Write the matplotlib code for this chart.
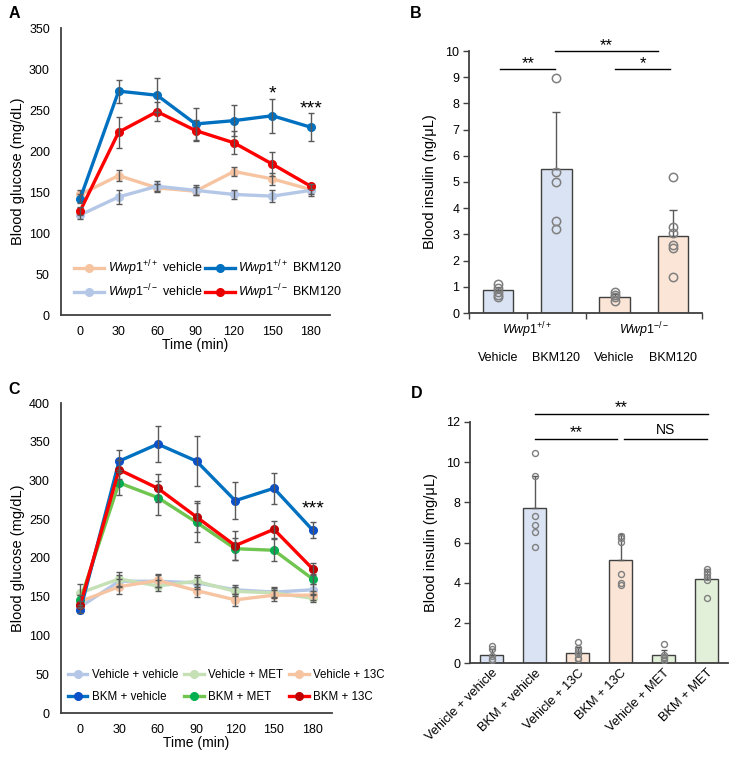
import matplotlib
matplotlib.use("Agg")
import matplotlib.pyplot as plt
import matplotlib.transforms as mtransforms

plt.rcParams["font.family"] = ["Liberation Sans", "DejaVu Sans"]
plt.rcParams["mathtext.fontset"] = "custom"
plt.rcParams["mathtext.rm"] = "Liberation Sans"
plt.rcParams["mathtext.it"] = "Liberation Sans:italic"
plt.rcParams["mathtext.bf"] = "Liberation Sans:bold"

# ---- panel A: glucose tolerance, Wwp1 genotypes
time_min = [0, 30, 60, 90, 120, 150, 180]
a_wt_veh = [147, 170, 155, 151, 175, 166, 153]
a_wt_veh_err = [5, 7, 5, 5, 6, 7, 5]
a_ko_veh = [122, 144, 157, 152, 147, 145, 152]
a_ko_veh_err = [5, 9, 6, 6, 5, 7, 7]
a_wt_bkm = [142, 273, 268, 233, 237, 243, 229]
a_wt_bkm_err = [6, 14, 21, 20, 19, 21, 17]
a_ko_bkm = [127, 223, 248, 225, 210, 184, 157]
a_ko_bkm_err = [5, 19, 12, 13, 14, 15, 3]
a_labels = [r"$\mathit{Wwp1}^{+/+}$ vehicle", r"$\mathit{Wwp1}^{-/-}$ vehicle",
            r"$\mathit{Wwp1}^{+/+}$ BKM120", r"$\mathit{Wwp1}^{-/-}$ BKM120"]
a_sig = {150: "*", 180: "***"}

# ---- panel B: insulin, Wwp1 genotypes
b_names = ["Vehicle", "BKM120", "Vehicle", "BKM120"]
b_geno = [r"$\mathit{Wwp1}^{+/+}$", r"$\mathit{Wwp1}^{-/-}$"]
b_means = [0.86, 5.51, 0.61, 2.95]
b_err = [0.12, 2.16, 0.1, 0.99]
b_points = [[1.1, 0.95, 0.8, 0.7, 0.6],
            [8.98, 5.4, 5.0, 3.52, 3.21],
            [0.82, 0.7, 0.6, 0.45],
            [5.2, 3.3, 3.05, 2.6, 2.48, 1.37]]

# ---- panel C: glucose tolerance, drug combos
c_vv = [137, 170, 170, 168, 159, 156, 159]
c_vv_err = [7, 8, 8, 8, 6, 6, 7]
c_vm = [155, 173, 164, 170, 157, 155, 148]
c_vm_err = [11, 9, 7, 8, 6, 6, 5]
c_v13 = [144, 163, 171, 158, 146, 152, 152]
c_v13_err = [8, 10, 8, 8, 8, 7, 6]
c_bv = [133, 325, 347, 325, 274, 290, 236]
c_bv_err = [4, 14, 23, 32, 24, 20, 10]
c_bm = [146, 297, 278, 246, 212, 210, 173]
c_bm_err = [6, 16, 22, 25, 14, 14, 6]
c_b13 = [140, 314, 290, 253, 216, 237, 186]
c_b13_err = [5, 12, 18, 20, 19, 11, 8]

# ---- panel D: insulin, drug combos
d_labels = ["Vehicle + vehicle", "BKM + vehicle", "Vehicle + 13C",
            "BKM + 13C", "Vehicle + MET", "BKM + MET"]
d_means = [0.38, 7.72, 0.51, 5.15, 0.38, 4.17]
d_err = [0.33, 1.57, 0.29, 1.25, 0.25, 0.49]
d_points = [[0.83, 0.7, 0.37, 0.2, 0.13],
            [10.46, 9.29, 7.32, 6.87, 6.54, 5.76],
            [1.05, 0.76, 0.6, 0.43, 0.27, 0.18],
            [6.34, 6.24, 6.02, 4.41, 3.98, 3.87],
            [0.96, 0.41, 0.3, 0.23, 0.13],
            [4.68, 4.53, 4.41, 4.28, 4.15, 3.24]]

ORANGE_L = "#F7C4A2"
BLUE_L = "#B4C7E7"
GREEN_L = "#C5E0B4"
BLUE = "#0070C0"
RED = "#FF0000"
GREEN = "#70C450"
BAR_BLUE = "#DAE3F3"
BAR_ORANGE = "#FBE5D6"
BAR_GREEN = "#E2F0D9"
EDGE = "#404040"
ERR = "#595959"
SPINE = "#404040"

W, H = 734, 759
fig = plt.figure(figsize=(W / 100, H / 100), dpi=100)


def px_axes(l, t, r, b):
    return fig.add_axes([l / W, 1 - b / H, (r - l) / W, (b - t) / H])


def style(ax, ticklen=0, pad=3):
    for s in ["top", "right"]:
        ax.spines[s].set_visible(False)
    for s in ["left", "bottom"]:
        ax.spines[s].set_color(SPINE)
        ax.spines[s].set_linewidth(1.3)
    ax.tick_params(length=ticklen, width=1, color=SPINE, labelsize=9, pad=pad)


def line_series(ax, y, err, color, mcolor=None, z=3):
    mcolor = mcolor or color
    ln, = ax.plot(time_min, y, "-o", color=color, lw=2.4, ms=5.5,
                  mfc=mcolor, mec=mcolor, zorder=z)
    ax.errorbar(time_min, y, yerr=err, fmt="none", ecolor=ERR, elinewidth=1,
                capsize=2.5, capthick=1, zorder=z + 0.5)
    return ln


def bracket(ax, x0, x1, y, txt, dy, size=12):
    ax.plot([x0, x1], [y, y], color="black", lw=1, clip_on=False)
    ax.text((x0 + x1) / 2, y + dy, txt, ha="center", va="center",
            fontsize=size, clip_on=False)


# ---------------- A
axA = px_axes(61, 28, 330, 315)
style(axA, pad=8)
h1 = line_series(axA, a_wt_veh, a_wt_veh_err, ORANGE_L, z=2)
h2 = line_series(axA, a_ko_veh, a_ko_veh_err, BLUE_L, z=2)
h3 = line_series(axA, a_wt_bkm, a_wt_bkm_err, BLUE, z=3)
h4 = line_series(axA, a_ko_bkm, a_ko_bkm_err, RED, mcolor="#E80000", z=3)
for i, t in enumerate(time_min):
    if t in a_sig:
        top = max(a_wt_bkm[i] + a_wt_bkm_err[i], a_ko_bkm[i] + a_ko_bkm_err[i])
        axA.text(t, top + 5, a_sig[t], ha="center", va="center", fontsize=14)
axA.set_xlim(-15, 195)
axA.set_ylim(0, 350)
axA.set_xticks(time_min)
axA.set_yticks(range(0, 351, 50))
axA.set_ylabel("Blood glucose (mg/dL)", fontsize=10.5, labelpad=3)
axA.set_xlabel("Time (min)", fontsize=10, labelpad=0)
axA.legend([h1, h2, h3, h4], a_labels, ncol=2, frameon=False, fontsize=9,
           loc="center left", bbox_to_anchor=(0.05, 0.122), handlelength=2.4,
           handletextpad=0.25, columnspacing=0.2, labelspacing=0.35,
           borderaxespad=0, borderpad=0)

# ---------------- B
axB = px_axes(469, 51, 702, 313)
style(axB, ticklen=4)
b_cols = [BAR_BLUE, BAR_BLUE, BAR_ORANGE, BAR_ORANGE]
xb = range(len(b_means))
axB.bar(xb, b_means, width=0.52, color=b_cols, edgecolor=EDGE, lw=1, zorder=2)
axB.errorbar(xb, b_means, yerr=[[0] * 4, b_err], fmt="none", ecolor=ERR,
             elinewidth=1, capsize=3, capthick=1, zorder=3)
for i, pts in enumerate(b_points):
    axB.plot([i] * len(pts), pts, "o", ms=6, mfc="none", mec="#7F7F7F",
             mew=1.1, zorder=4)
axB.set_xlim(-0.5, 3.5)
axB.set_ylim(0, 10)
axB.set_yticks(range(0, 11))
axB.set_xticks([-0.5, 0.5, 1.5, 3.5])
axB.set_xticklabels([])
axB.set_ylabel("Blood insulin (ng/μL)", fontsize=10.5, labelpad=6)
trB = mtransforms.blended_transform_factory(axB.transData, axB.transAxes)
for i, g in enumerate(b_geno):
    axB.text(0.5 + 2 * i, -0.066, g, transform=trB, ha="center", va="center",
             fontsize=9)
for i, n in enumerate(b_names):
    axB.text(i, -0.17, n, transform=trB, ha="center", va="center", fontsize=9)
bracket(axB, 0.04, 0.98, 9.3, "**", 0.22)
bracket(axB, 0.98, 2.74, 10.0, "**", 0.22)
bracket(axB, 2.01, 2.95, 9.3, "*", 0.22)

# ---------------- C
axC = px_axes(61, 403, 332, 713)
style(axC, pad=8)
k1 = line_series(axC, c_vv, c_vv_err, BLUE_L, z=2)
k3 = line_series(axC, c_vm, c_vm_err, GREEN_L, z=2)
k5 = line_series(axC, c_v13, c_v13_err, ORANGE_L, z=2)
k4 = line_series(axC, c_bm, c_bm_err, GREEN, mcolor="#00B050", z=3)
k2 = line_series(axC, c_bv, c_bv_err, BLUE, mcolor="#0A50C8", z=3)
k6 = line_series(axC, c_b13, c_b13_err, RED, mcolor="#C00000", z=3)
axC.text(180, c_bv[-1] + c_bv_err[-1] + 17, "***", ha="center", va="center",
         fontsize=14)
axC.set_xlim(-15, 195)
axC.set_ylim(0, 400)
axC.set_xticks(time_min)
axC.set_yticks(range(0, 401, 50))
axC.set_ylabel("Blood glucose (mg/dL)", fontsize=10.5, labelpad=3)
axC.set_xlabel("Time (min)", fontsize=10, labelpad=0)
axC.legend([k1, k2, k3, k4, k5, k6],
           ["Vehicle + vehicle", "BKM + vehicle", "Vehicle + MET",
            "BKM + MET", "Vehicle + 13C", "BKM + 13C"],
           ncol=3, frameon=False, fontsize=8.3, loc="center left",
           bbox_to_anchor=(0.025, 0.087), handlelength=1.7,
           handletextpad=0.4, columnspacing=0.5, labelspacing=0.8,
           borderaxespad=0, borderpad=0)

# ---------------- D
axD = px_axes(470, 422, 728, 663)
style(axD, ticklen=4)
axD.tick_params(axis="x", length=0)
d_cols = [BAR_BLUE, BAR_BLUE, BAR_ORANGE, BAR_ORANGE, BAR_GREEN, BAR_GREEN]
xd = range(len(d_means))
axD.bar(xd, d_means, width=0.52, color=d_cols, edgecolor=EDGE, lw=1, zorder=2)
axD.errorbar(xd, d_means, yerr=[[0] * 6, d_err], fmt="none", ecolor=ERR,
             elinewidth=1, capsize=2.5, capthick=1, zorder=3)
for i, pts in enumerate(d_points):
    axD.plot([i] * len(pts), pts, "o", ms=4.3, mfc="none", mec="#7F7F7F",
             mew=1, zorder=4)
axD.set_xlim(-0.5, 5.5)
axD.set_ylim(0, 12)
axD.set_yticks(range(0, 13, 2))
axD.set_xticks(list(xd))
axD.set_xticklabels(d_labels, rotation=45, ha="right", rotation_mode="anchor",
                    fontsize=9.3)
axD.set_ylabel("Blood insulin (mg/μL)", fontsize=10.5, labelpad=6)
bracket(axD, 1, 2.92, 11.17, "**", 0.3)
bracket(axD, 3.09, 5.0, 11.17, "NS", 0.45, size=10)
bracket(axD, 1, 5.03, 12.4, "**", 0.3)

# panel letters
for x, y, s in [(14, 14, "A"), (416, 14, "B"), (14, 390, "C"), (417, 394, "D")]:
    fig.text(x / W, 1 - y / H, s, fontsize=11.5, fontweight="bold",
             ha="center", va="center")

fig.savefig("out.png", dpi=100)
